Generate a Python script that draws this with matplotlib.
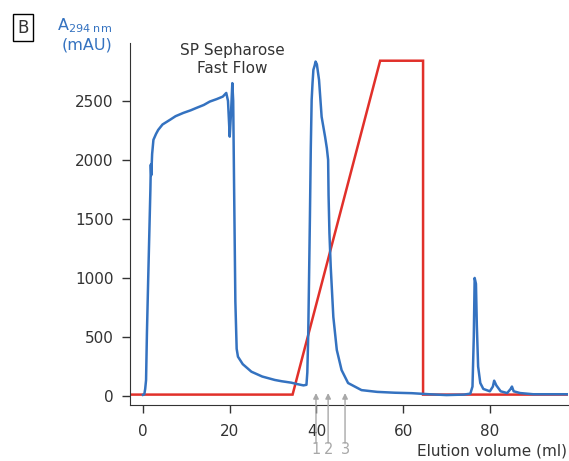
import matplotlib
matplotlib.use("Agg")
import matplotlib.pyplot as plt

# A294 trace (blue)
uv_ml = [0, 0.3, 0.5, 0.7, 0.9, 1.2, 1.5, 1.7, 1.75, 1.8, 1.9, 2.1, 2.4, 3.0, 3.5,
         4.5, 6.2, 7.5, 9.3, 11, 12.3, 14, 15.4, 17, 18.4, 19.2, 19.6, 20.0,
         20.3, 20.6, 20.8, 21.0, 21.3, 21.6, 21.9, 23, 25, 27.5, 30.4, 32, 34.2,
         35.7, 37.0, 37.7, 37.9, 38.1, 38.3, 38.5, 38.7, 38.9, 39.1, 39.3, 39.6,
         39.8, 40.1, 40.6, 41.2, 41.6, 42.0, 42.4, 42.7, 42.8, 43.0, 43.3, 43.9,
         44.7, 45.8, 47.3, 50.4, 54, 58, 62, 66, 70, 74, 75.5, 76.0, 76.3, 76.5,
         76.8, 77.0, 77.3, 77.8, 78.5, 80, 80.7, 81.0, 81.5, 82.5, 84, 84.8, 85.1,
         85.5, 87, 90, 98]
uv_mau = [10, 15, 60, 135, 530, 1000, 1450, 1750, 1850, 1960, 1870, 2050, 2170,
          2220, 2254, 2300, 2339, 2370, 2398, 2420, 2440, 2465, 2494, 2515, 2536,
          2567, 2500, 2197, 2400, 2650, 2500, 1800, 800, 400, 333, 270, 206, 165,
          136, 125, 113, 100, 90, 95, 200, 500, 1000, 1517, 2100, 2508, 2650, 2763,
          2800, 2833, 2810, 2678, 2365, 2280, 2195, 2100, 2000, 1700, 1380, 1093,
          670, 390, 220, 110, 50, 35, 28, 24, 15, 8, 12, 20, 80, 500, 1000, 950,
          600, 250, 110, 60, 40, 80, 130, 90, 40, 25, 60, 80, 40, 25, 15, 15]

# gradient trace (red)
grad_ml = [-3, 34.5, 54.7, 64.6, 64.6, 98]
grad_mau = [12, 12, 2840, 2840, 12, 12]

fraction_ml = [39.9, 42.7, 46.6]
fraction_labels = ["1", "2", "3"]

blue = "#3472c0"
red = "#e1302a"
grey = "#a8a8a8"
ink = "#333333"

plt.rcParams["font.family"] = ["DejaVu Sans"]

fig = plt.figure(figsize=(5.69, 4.61), dpi=100)
ax = fig.add_axes([0.2285, 0.1215, 0.7695, 0.7852])

ax.plot(grad_ml, grad_mau, color=red, lw=1.8, solid_joinstyle="miter")
ax.plot(uv_ml, uv_mau, color=blue, lw=1.8)

ax.set_xlim(-3, 98)
ax.set_ylim(-76, 2990)
ax.set_xticks([0, 20, 40, 60, 80])
ax.set_yticks([0, 500, 1000, 1500, 2000, 2500])
ax.tick_params(labelsize=11, colors=ink, length=6, width=1)
ax.tick_params(axis="x", pad=8)
ax.tick_params(axis="y", pad=6)
for s in ["top", "right"]:
    ax.spines[s].set_visible(False)
for s in ["left", "bottom"]:
    ax.spines[s].set_color(ink)

# fraction arrows
for x, lab in zip(fraction_ml, fraction_labels):
    ax.annotate("", xy=(x, 25), xytext=(x, -400), annotation_clip=False,
                arrowprops=dict(arrowstyle="-|>", color=grey, lw=1,
                                mutation_scale=8, shrinkA=0, shrinkB=0))
    ax.annotate(lab, xy=(x, 0), xycoords=("data", "figure fraction"),
                xytext=(0, 8), textcoords="offset points", color=grey,
                fontsize=10.5, ha="center", va="center", annotation_clip=False)

fig.text(0.997, 0.021, "Elution volume (ml)", color=ink, fontsize=11,
         ha="right", va="center")
ax.text(20.6, 2850, "SP Sepharose\nFast Flow", color=ink, fontsize=11,
        ha="center", va="center", linespacing=1.3)

fig.text(0.197, 0.945, r"A$_{\mathregular{294\ nm}}$", color=blue, fontsize=11.5,
         ha="right", va="center")
fig.text(0.197, 0.902, "(mAU)", color=blue, fontsize=11.5, ha="right", va="center")
fig.text(0.04, 0.94, "B", color=ink, fontsize=12, ha="center", va="center",
         bbox=dict(boxstyle="square,pad=0.25", fc="white", ec="black", lw=1))

fig.savefig("out.png", dpi=100)
